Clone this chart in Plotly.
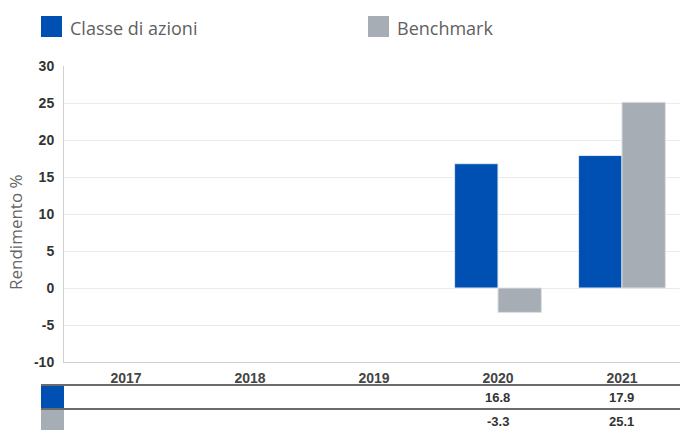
import plotly.graph_objects as go

years = ["2017", "2018", "2019", "2020", "2021"]
fund_vals = [None, None, None, 16.8, 17.9]
bench_vals = [None, None, None, -3.3, 25.1]
series_names = ["Classe di azioni", "Benchmark"]
y_ticks = [-10, -5, 0, 5, 10, 15, 20, 25, 30]
y_tick_labels = ["-10", "-5", "0", "5", "10", "15", "20", "25", "30"]
y_title = "Rendimento %"

BLUE = "#0050b4"
GREY = "#a6adb4"

W, H = 680, 430
L, R, T, B = 64, 0, 66, 68
PW, PH = W - L - R, H - T - B


def px(x):
    return (x - L) / PW


def py(y):
    return (H - B - y) / PH


fig = go.Figure()
fig.add_bar(x=years, y=fund_vals, name=series_names[0], marker=dict(color=BLUE, line=dict(color="#dfe6f0", width=1)))
fig.add_bar(x=years, y=bench_vals, name=series_names[1], marker=dict(color=GREY, line=dict(color="#dde0e3", width=1)))

shapes = []
annotations = []

# legend
for sx, tx, col, name in [(41, 68, BLUE, series_names[0]), (368, 395, GREY, series_names[1])]:
    shapes.append(dict(type="rect", xref="paper", yref="paper", x0=px(sx), x1=px(sx + 21),
                       y0=py(37), y1=py(16), fillcolor=col, line=dict(width=0)))
    annotations.append(dict(xref="paper", yref="paper", x=px(tx), y=py(28), text=name, showarrow=False,
                            xanchor="left", yanchor="middle",
                            font=dict(family="Open Sans", size=18, color="#5f5f5f")))

# y title
annotations.append(dict(xref="paper", yref="paper", x=px(16), y=py(232), text=y_title, showarrow=False,
                        textangle=-90, xanchor="center", yanchor="middle",
                        font=dict(family="Open Sans", size=17, color="#666666")))

# table
for yl in [385, 409]:
    shapes.append(dict(type="line", xref="paper", yref="paper", x0=px(41), x1=1, y0=py(yl), y1=py(yl),
                       line=dict(color="#3a3a3a", width=1.5)))
shapes.append(dict(type="rect", xref="paper", yref="paper", x0=px(41), x1=px(64), y0=py(408), y1=py(386),
                   fillcolor=BLUE, line=dict(width=0)))
shapes.append(dict(type="rect", xref="paper", yref="paper", x0=px(41), x1=px(64), y0=py(430), y1=py(410),
                   fillcolor=GREY, line=dict(width=0)))
for vals, yc in [(fund_vals, 397), (bench_vals, 421)]:
    for i, v in enumerate(vals):
        if v is None:
            continue
        annotations.append(dict(xref="x", yref="paper", x=i, y=py(yc), text=f"{v:.1f}", showarrow=False,
                                xanchor="center", yanchor="middle",
                                font=dict(family="Liberation Sans", size=13, color="#333333", weight="bold")))

fig.update_layout(
    width=W, height=H,
    margin=dict(l=L, r=R, t=T, b=B, autoexpand=False),
    paper_bgcolor="white", plot_bgcolor="white",
    barmode="group", bargap=0.3, bargroupgap=0,
    showlegend=False,
    shapes=shapes, annotations=annotations,
    xaxis=dict(type="category", range=[-0.5, 4.468], showgrid=False, showline=True, linecolor="#d0d0d0",
               linewidth=1, ticks="", tickfont=dict(family="Liberation Sans", size=14, color="#444444", weight="bold"),
               ticklabelstandoff=3),
    yaxis=dict(range=[-10, 30], tickvals=y_ticks, ticktext=y_tick_labels, showgrid=True, gridcolor="#ebebeb", gridwidth=1,
               zeroline=True, zerolinecolor="#ebebeb", zerolinewidth=1,
               showline=True, linecolor="#d0d0d0", linewidth=1, ticks="",
               tickfont=dict(family="Liberation Sans", size=14, color="#333333", weight="bold"),
               ticklabelstandoff=6),
)

fig.write_html("out.html", config={"displayModeBar": False},
               post_script="document.body.style.margin='0';document.body.style.padding='0';")
